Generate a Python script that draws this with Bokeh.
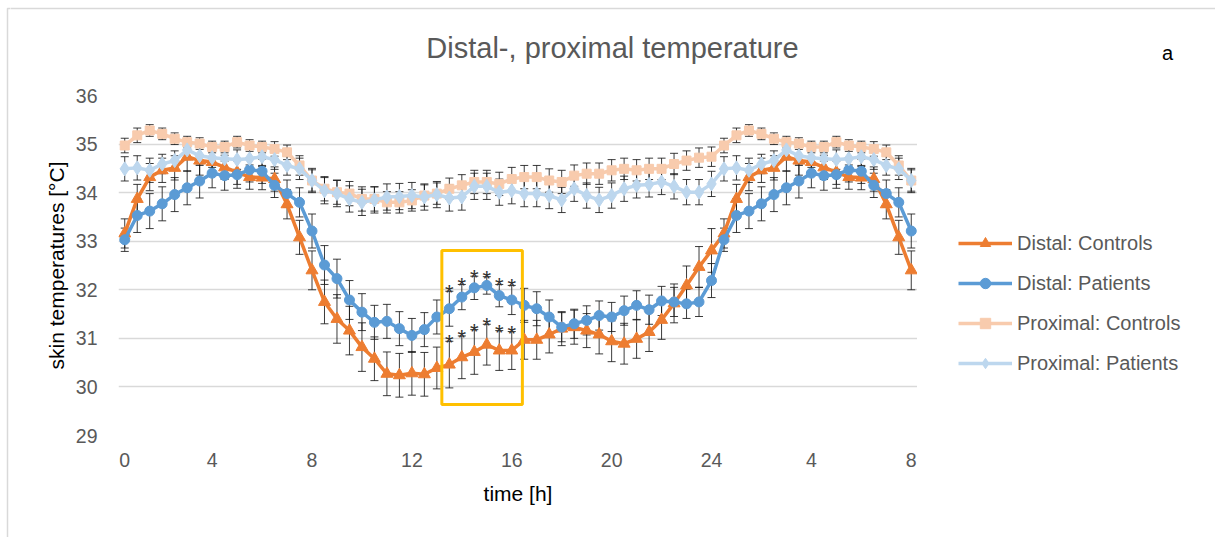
from bokeh.plotting import figure
from bokeh.layouts import column, row
from bokeh.models import (ColumnDataSource, Whisker, TeeHead, Legend, LegendItem,
                          FixedTicker, BoxAnnotation, Range1d, Label)
from bokeh.core.properties import value
from bokeh.embed import file_html
from bokeh.resources import INLINE

# ---------------- data (half-hour samples, index 0..63) ----------------
tick_index = [0, 7, 15, 23, 31, 39, 47, 55, 63]
tick_labels = ["0", "4", "8", "12", "16", "20", "24", "4", "8"]

distal_controls = [
    33.16, 33.87, 34.32, 34.46, 34.51, 34.74, 34.66, 34.63, 34.52, 34.42, 34.32, 34.31, 34.28, 33.76, 33.08, 32.40,
    31.75, 31.40, 31.16, 30.82, 30.58, 30.27, 30.24, 30.28, 30.26, 30.39, 30.46, 30.61, 30.72, 30.87, 30.75, 30.75,
    30.97, 30.97, 31.08, 31.20, 31.23, 31.16, 31.08, 30.94, 30.89, 30.99, 31.13, 31.38, 31.72, 32.09, 32.47, 32.81,
    33.16, 33.87, 34.32, 34.46, 34.51, 34.74, 34.66, 34.63, 34.52, 34.42, 34.32, 34.31, 34.28, 33.76, 33.08, 32.40]
distal_patients = [
    33.03, 33.53, 33.62, 33.77, 33.96, 34.10, 34.24, 34.40, 34.35, 34.37, 34.47, 34.44, 34.15, 33.98, 33.80, 33.21,
    32.51, 32.23, 31.79, 31.54, 31.33, 31.35, 31.20, 31.06, 31.18, 31.44, 31.61, 31.85, 32.04, 32.09, 31.88, 31.79,
    31.68, 31.61, 31.44, 31.23, 31.30, 31.37, 31.47, 31.44, 31.57, 31.68, 31.59, 31.77, 31.75, 31.71, 31.75, 32.19,
    33.03, 33.53, 33.62, 33.77, 33.96, 34.10, 34.24, 34.40, 34.35, 34.37, 34.47, 34.44, 34.15, 33.98, 33.80, 33.21]
proximal_controls = [
    34.97, 35.18, 35.28, 35.21, 35.11, 35.04, 35.01, 34.94, 34.94, 35.04, 34.97, 34.94, 34.90, 34.83, 34.56, 34.25,
    34.08, 34.01, 33.98, 33.87, 33.87, 33.80, 33.80, 33.84, 33.94, 33.98, 34.08, 34.15, 34.22, 34.22, 34.18, 34.28,
    34.32, 34.32, 34.25, 34.22, 34.35, 34.39, 34.39, 34.46, 34.49, 34.46, 34.49, 34.49, 34.59, 34.66, 34.72, 34.74,
    34.97, 35.18, 35.28, 35.21, 35.11, 35.04, 35.01, 34.94, 34.94, 35.04, 34.97, 34.94, 34.90, 34.83, 34.56, 34.25]
proximal_patients = [
    34.49, 34.51, 34.46, 34.59, 34.66, 34.88, 34.76, 34.72, 34.70, 34.68, 34.70, 34.74, 34.68, 34.56, 34.49, 34.25,
    34.04, 33.98, 33.87, 33.80, 33.85, 33.91, 33.92, 33.94, 33.91, 33.96, 33.89, 33.91, 34.13, 34.13, 34.01, 34.04,
    33.98, 33.98, 33.94, 33.85, 34.08, 33.94, 33.85, 33.94, 34.08, 34.15, 34.17, 34.22, 34.13, 34.01, 34.01, 34.18,
    34.49, 34.51, 34.46, 34.59, 34.66, 34.88, 34.76, 34.72, 34.70, 34.68, 34.70, 34.74, 34.68, 34.56, 34.49, 34.25]

distal_controls_err = [
    0.30, 0.30, 0.28, 0.25, 0.25, 0.30, 0.30, 0.28, 0.25, 0.25, 0.25, 0.25, 0.25, 0.30, 0.35, 0.40,
    0.45, 0.50, 0.50, 0.50, 0.45, 0.45, 0.45, 0.45, 0.45, 0.43, 0.48, 0.44, 0.46, 0.42, 0.41, 0.39,
    0.40, 0.40, 0.38, 0.35, 0.35, 0.35, 0.40, 0.42, 0.42, 0.40, 0.40, 0.40, 0.40, 0.40, 0.42, 0.45,
    0.30, 0.30, 0.28, 0.25, 0.25, 0.30, 0.30, 0.28, 0.25, 0.25, 0.25, 0.25, 0.25, 0.30, 0.35, 0.40]
distal_patients_err = [
    0.24, 0.35, 0.36, 0.35, 0.35, 0.35, 0.35, 0.30, 0.30, 0.28, 0.25, 0.25, 0.25, 0.28, 0.30, 0.35,
    0.40, 0.40, 0.40, 0.38, 0.35, 0.35, 0.35, 0.35, 0.35, 0.35, 0.36, 0.26, 0.24, 0.18, 0.23, 0.30,
    0.35, 0.35, 0.35, 0.30, 0.30, 0.30, 0.30, 0.30, 0.30, 0.30, 0.30, 0.30, 0.30, 0.30, 0.30, 0.35,
    0.24, 0.35, 0.36, 0.35, 0.35, 0.35, 0.35, 0.30, 0.30, 0.28, 0.25, 0.25, 0.25, 0.28, 0.30, 0.35]
proximal_controls_err = [
    0.15, 0.15, 0.12, 0.12, 0.12, 0.12, 0.12, 0.12, 0.12, 0.12, 0.12, 0.12, 0.15, 0.15, 0.20, 0.22,
    0.25, 0.25, 0.25, 0.25, 0.25, 0.22, 0.22, 0.22, 0.22, 0.22, 0.22, 0.22, 0.24, 0.24, 0.24, 0.24,
    0.24, 0.24, 0.24, 0.24, 0.22, 0.22, 0.22, 0.22, 0.22, 0.22, 0.22, 0.22, 0.22, 0.20, 0.20, 0.20,
    0.15, 0.15, 0.12, 0.12, 0.12, 0.12, 0.12, 0.12, 0.12, 0.12, 0.12, 0.12, 0.15, 0.15, 0.20, 0.22]
proximal_patients_err = [
    0.25, 0.25, 0.25, 0.20, 0.20, 0.20, 0.20, 0.20, 0.20, 0.20, 0.20, 0.20, 0.20, 0.20, 0.22, 0.25,
    0.27, 0.27, 0.27, 0.27, 0.27, 0.27, 0.27, 0.27, 0.27, 0.27, 0.27, 0.27, 0.27, 0.27, 0.27, 0.27,
    0.27, 0.27, 0.27, 0.26, 0.26, 0.26, 0.26, 0.26, 0.26, 0.26, 0.26, 0.26, 0.26, 0.26, 0.26, 0.26,
    0.25, 0.25, 0.25, 0.20, 0.20, 0.20, 0.20, 0.20, 0.20, 0.20, 0.20, 0.20, 0.20, 0.20, 0.22, 0.25]

significant_index = [26, 27, 28, 29, 30, 31]
highlight_box = [25.4, 31.85, 29.64, 32.81]  # left, right, bottom, top (index / degC)

series_names = ["Distal: Controls", "Distal: Patients", "Proximal: Controls", "Proximal: Patients"]
series_colors = ["#ED7D31", "#5B9BD5", "#F8CBAD", "#BDD7EE"]
series_markers = ["triangle", "circle", "square", "diamond"]
series_sizes = [12, 10, 9, 14]

title_text = "Distal-, proximal temperature"
panel_letter = "a"

FONT = "Liberation Sans"
BORDER = "#D9D9D9"

x = list(range(len(distal_controls)))


def blank(width, height, xr, yr):
    f = figure(width=width, height=height, output_backend="svg", toolbar_location=None,
               x_range=Range1d(*xr), y_range=Range1d(*yr),
               x_axis_location=None, y_axis_location=None,
               min_border=0, min_border_left=0, min_border_right=0,
               min_border_top=0, min_border_bottom=0)
    f.outline_line_color = None
    f.grid.visible = False
    f.background_fill_color = "white"
    f.border_fill_color = "white"
    return f


# ---------- left strip: chart-area border (page coordinates) ----------
left = blank(10, 537, (0, 10), (537, 0))
left.line(x=[11, 7, 7], y=[8, 8, 540], line_color=BORDER, line_width=1.5)

# ---------- top strip: title, panel letter, border (page coordinates) ----------
top = blank(1205, 80, (10, 1215), (80, 0))
top.line(x=[9, 1216], y=[8, 8], line_color=BORDER, line_width=1.5)
top.add_layout(Label(x=612, y=47, text=title_text, text_font=FONT, text_font_size="29px",
                     text_color="#595959", text_align="center", text_baseline="middle"))
top.add_layout(Label(x=1167, y=52, text=panel_letter, text_font=FONT, text_font_size="20px",
                     text_color="black", text_align="center", text_baseline="middle"))

# ---------- main plot ----------
p = figure(width=907, height=457, output_backend="svg", toolbar_location=None,
           x_range=Range1d(-0.5, 63.5), y_range=Range1d(29, 36),
           min_border_left=108, min_border_right=0, min_border_top=15, min_border_bottom=102)
p.outline_line_color = None
p.background_fill_color = "white"
p.border_fill_color = "white"

p.xgrid.grid_line_color = None
p.ygrid.grid_line_color = "#D9D9D9"
p.ygrid.grid_line_width = 1.3
p.yaxis.ticker = FixedTicker(ticks=[29, 30, 31, 32, 33, 34, 35, 36])
p.xaxis.ticker = FixedTicker(ticks=tick_index)
p.xaxis.major_label_overrides = {i: l for i, l in zip(tick_index, tick_labels)}

for ax in (p.xaxis[0], p.yaxis[0]):
    ax.axis_line_color = None
    ax.major_tick_line_color = None
    ax.minor_tick_line_color = None
    ax.major_label_text_font = FONT
    ax.major_label_text_font_size = "19.5px"
    ax.major_label_text_color = "#595959"
    ax.axis_label_text_font = FONT
    ax.axis_label_text_font_size = "21px"
    ax.axis_label_text_font_style = "normal"
    ax.axis_label_text_color = "black"
p.yaxis.major_label_standoff = 15
p.xaxis.major_label_standoff = 11
p.yaxis.axis_label = "skin temperatures [°C]"
p.xaxis.axis_label = "time [h]"
p.yaxis.axis_label_standoff = 5
p.xaxis.axis_label_standoff = 12

all_series = [distal_controls, distal_patients, proximal_controls, proximal_patients]
all_err = [distal_controls_err, distal_patients_err, proximal_controls_err, proximal_patients_err]

for ys, errs, col, mk, sz in zip(all_series, all_err, series_colors, series_markers, series_sizes):
    src = ColumnDataSource(dict(x=x, y=ys,
                                upper=[v + e for v, e in zip(ys, errs)],
                                lower=[v - e for v, e in zip(ys, errs)]))
    wh = Whisker(source=src, base="x", upper="upper", lower="lower",
                 line_color="#1a1a1a", line_width=1, line_alpha=0.85,
                 upper_head=TeeHead(size=8, line_color="#1a1a1a", line_width=1, line_alpha=0.85),
                 lower_head=TeeHead(size=8, line_color="#1a1a1a", line_width=1, line_alpha=0.85))
    p.add_layout(wh)
    p.line("x", "y", source=src, line_color=col, line_width=3.5)
    p.scatter("x", "y", source=src, marker=mk, size=sz, fill_color=col, line_color=col)

for ys, errs in ((distal_controls, distal_controls_err), (distal_patients, distal_patients_err)):
    ax_ = [i for i in significant_index]
    ay_ = [ys[i] + errs[i] - 0.03 for i in significant_index]
    p.text(x=ax_, y=ay_, text=["*"] * len(ax_), text_font=value(FONT), text_font_size="22px",
           text_color="#333333", text_align="center", text_baseline="middle")

p.add_layout(BoxAnnotation(left=highlight_box[0], right=highlight_box[1],
                           bottom=highlight_box[2], top=highlight_box[3],
                           fill_alpha=0, line_color="#FFC000", line_alpha=1.0, line_width=3))

# ---------- right strip: legend; its frame aligns with the main frame (page y 95..435) ----------
side = blank(298, 457, (917, 1215), (435, 95))
items = []
for name, col, mk, sz in zip(series_names, series_colors, series_markers, series_sizes):
    ln = side.line(x=[0, 1], y=[0, 0], line_color=col, line_width=3.5)
    sc = side.scatter(x=[0], y=[0], marker=mk, size=sz, fill_color=col, line_color=col)
    items.append(LegendItem(label=name, renderers=[ln, sc]))
legend = Legend(items=items, location=(41, 59), orientation="vertical",
                glyph_width=54, glyph_height=26, label_height=26, spacing=14,
                padding=0, margin=0, label_standoff=5,
                label_text_font=FONT, label_text_font_size="20px", label_text_color="#595959",
                border_line_color=None, background_fill_alpha=0)
side.add_layout(legend)

layout = row(left, column(top, row(p, side, spacing=0), spacing=0), spacing=0)

open("out.html", "w").write(file_html(layout, INLINE))
